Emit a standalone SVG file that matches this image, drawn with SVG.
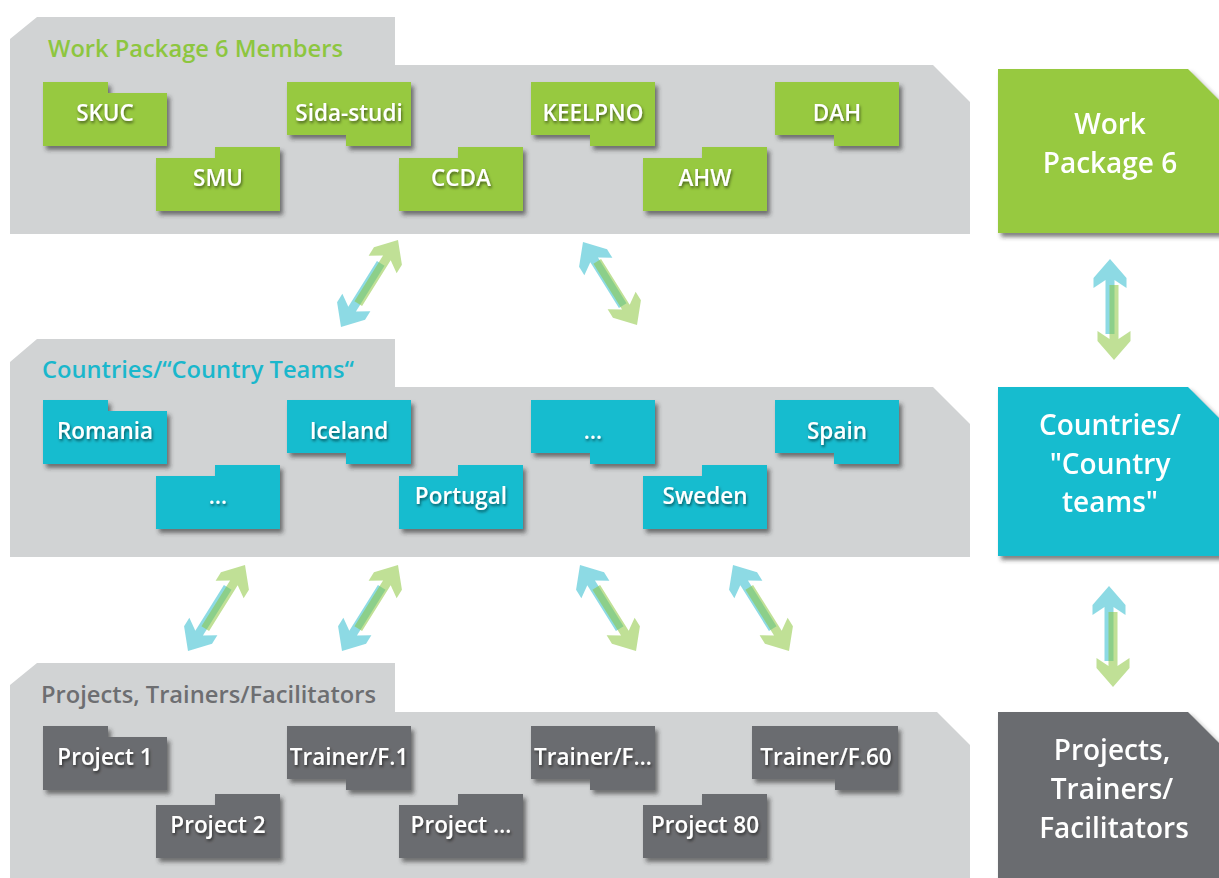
<svg xmlns="http://www.w3.org/2000/svg" xmlns:xlink="http://www.w3.org/1999/xlink" width="1219" height="878" viewBox="0 0 1219 878">
<defs>
<filter id="sh" x="-10%" y="-10%" width="130%" height="140%">
<feDropShadow dx="3" dy="4" stdDeviation="2" flood-color="#2e2e2e" flood-opacity="0.6"/>
</filter>
<filter id="tsh" x="-10%" y="-30%" width="130%" height="170%">
<feDropShadow dx="1" dy="2" stdDeviation="1.6" flood-color="#000" flood-opacity="0.55"/>
</filter>
<path id="arr" d="M0,0 L16.5,19 L16.5,29 L4.5,21 L4.5,75 L-4.5,75 L-4.5,21 L-16.5,29 L-16.5,19 Z"/>
<style>
.panel{fill:#d1d3d4}
.g{fill:#97c93f}
.c{fill:#15bccf}
.d{fill:#6b6c6f}
.node{filter:url(#sh)}
.lbl{font-family:"Open Sans","Liberation Sans",sans-serif;font-weight:600;font-size:22.5px;fill:#fff;text-anchor:middle;filter:url(#tsh)}
.ttl{font-family:"Open Sans","Liberation Sans",sans-serif;font-weight:600;font-size:23.7px}
.big{font-family:"Open Sans","Liberation Sans",sans-serif;font-weight:600;font-size:28px;fill:#fff;text-anchor:middle}
.ab{fill:#1bb5c9;opacity:0.5}
.ag{fill:#8dc63f;opacity:0.55}
</style>
</defs>
<rect width="1219" height="878" fill="#fff"/>

<g id="panel-wp6">
<path class="panel" d="M10,39 L37,17 L395,17 L395,65 L933,65 L970,102 L970,234 L10,234 Z"/>
<text class="ttl" x="48" y="57" fill="#8dc63f">Work Package 6 Members</text>
</g>
<g id="panel-countries">
<path class="panel" d="M10,362 L37,339 L395,339 L395,387 L933,387 L970,424 L970,557 L10,557 Z"/>
<text class="ttl" x="42" y="378" fill="#1ab7cc">Countries/“Country Teams“</text>
</g>
<g id="panel-projects">
<path class="panel" d="M10,685 L37,663 L395,663 L395,712 L937,712 L970,745 L970,890 L10,890 Z"/>
<text class="ttl" x="41" y="703" fill="#6d6e71">Projects, Trainers/Facilitators</text>
</g>

<g id="node-skuc" class="node"><path class="g" d="M43,82 H108 V93 H167 V146 H43 Z"/><text class="lbl" x="105" y="121">SKUC</text></g>
<g id="node-sida" class="node"><path class="g" d="M287,82 H411 V146 H346 V135 H287 Z"/><text class="lbl" x="349" y="121">Sida-studi</text></g>
<g id="node-keelpno" class="node"><path class="g" d="M531,82 H655 V146 H590 V135 H531 Z"/><text class="lbl" x="593" y="121">KEELPNO</text></g>
<g id="node-dah" class="node"><path class="g" d="M775,82 H899 V146 H834 V135 H775 Z"/><text class="lbl" x="837" y="121">DAH</text></g>
<g id="node-smu" class="node"><path class="g" d="M156,158 H215 V147 H280 V211 H156 Z"/><text class="lbl" x="218" y="186">SMU</text></g>
<g id="node-ccda" class="node"><path class="g" d="M399,158 H458 V147 H523 V211 H399 Z"/><text class="lbl" x="461" y="186">CCDA</text></g>
<g id="node-ahw" class="node"><path class="g" d="M643,158 H702 V147 H767 V211 H643 Z"/><text class="lbl" x="705" y="186">AHW</text></g>

<g id="node-romania" class="node"><path class="c" d="M43,400 H108 V411 H167 V464 H43 Z"/><text class="lbl" x="105" y="439">Romania</text></g>
<g id="node-iceland" class="node"><path class="c" d="M287,400 H411 V464 H346 V453 H287 Z"/><text class="lbl" x="349" y="439">Iceland</text></g>
<g id="node-c-more1" class="node"><path class="c" d="M531,400 H655 V464 H590 V453 H531 Z"/><text class="lbl" x="593" y="439">…</text></g>
<g id="node-spain" class="node"><path class="c" d="M775,400 H899 V464 H834 V453 H775 Z"/><text class="lbl" x="837" y="439">Spain</text></g>
<g id="node-c-more2" class="node"><path class="c" d="M156,476 H215 V465 H280 V529 H156 Z"/><text class="lbl" x="218" y="504">…</text></g>
<g id="node-portugal" class="node"><path class="c" d="M399,476 H458 V465 H523 V529 H399 Z"/><text class="lbl" x="461" y="504">Portugal</text></g>
<g id="node-sweden" class="node"><path class="c" d="M643,476 H702 V465 H767 V529 H643 Z"/><text class="lbl" x="705" y="504">Sweden</text></g>

<g id="node-project1" class="node"><path class="d" d="M43,726 H108 V737 H167 V790 H43 Z"/><text class="lbl" x="105" y="765">Project 1</text></g>
<g id="node-trainer1" class="node"><path class="d" d="M287,726 H411 V790 H346 V779 H287 Z"/><text class="lbl" x="349" y="765">Trainer/F.1</text></g>
<g id="node-trainer-more" class="node"><path class="d" d="M531,726 H655 V790 H590 V779 H531 Z"/><text class="lbl" x="593" y="765">Trainer/F…</text></g>
<g id="node-trainer60" class="node"><path class="d" d="M752,726 H898 V790 H835 V779 H752 Z"/><text class="lbl" x="826" y="765">Trainer/F.60</text></g>
<g id="node-project2" class="node"><path class="d" d="M156,805 H215 V794 H280 V858 H156 Z"/><text class="lbl" x="218" y="833">Project 2</text></g>
<g id="node-project-more" class="node"><path class="d" d="M399,805 H458 V794 H523 V858 H399 Z"/><text class="lbl" x="461" y="833">Project …</text></g>
<g id="node-project80" class="node"><path class="d" d="M643,805 H702 V794 H767 V858 H643 Z"/><text class="lbl" x="705" y="833">Project 80</text></g>

<g id="block-wp6" class="node"><path class="g" d="M998,69 L1188,69 L1240,121 L1240,233 L998,233 Z"/>
<text class="big" x="1110" y="134">Work</text><text class="big" x="1110" y="173">Package 6</text></g>
<g id="block-countries" class="node"><path class="c" d="M998,387 L1188,387 L1240,439 L1240,556 L998,556 Z"/>
<text class="big" x="1110" y="435">Countries/</text><text class="big" x="1110" y="474">"Country</text><text class="big" x="1110" y="512">teams"</text></g>
<g id="block-projects" class="node"><path class="d" d="M998,712 L1188,712 L1240,764 L1240,890 L998,890 Z"/>
<text class="big" x="1112" y="760">Projects,</text><text class="big" x="1112" y="799">Trainers/</text><text class="big" x="1114" y="838">Facilitators</text></g>

<g id="connectors">
<use xlink:href="#arr" class="ab" transform="translate(1110,259)"/>
<use xlink:href="#arr" class="ag" transform="translate(1114,360) rotate(180)"/>
<use xlink:href="#arr" class="ab" transform="translate(1109,586)"/>
<use xlink:href="#arr" class="ag" transform="translate(1113,687) rotate(180)"/>

<use xlink:href="#arr" class="ab" transform="translate(341,327) rotate(212)"/>
<use xlink:href="#arr" class="ag" transform="translate(398,240) rotate(32)"/>
<use xlink:href="#arr" class="ab" transform="translate(583,242) rotate(-32)"/>
<use xlink:href="#arr" class="ag" transform="translate(637,325) rotate(148)"/>

<use xlink:href="#arr" class="ab" transform="translate(188,651) rotate(212)"/>
<use xlink:href="#arr" class="ag" transform="translate(245,565) rotate(32)"/>
<use xlink:href="#arr" class="ab" transform="translate(342,651) rotate(212)"/>
<use xlink:href="#arr" class="ag" transform="translate(398,565) rotate(32)"/>
<use xlink:href="#arr" class="ab" transform="translate(580,565) rotate(-32)"/>
<use xlink:href="#arr" class="ag" transform="translate(636,651) rotate(148)"/>
<use xlink:href="#arr" class="ab" transform="translate(733,565) rotate(-32)"/>
<use xlink:href="#arr" class="ag" transform="translate(789,651) rotate(148)"/>
</g>
</svg>
